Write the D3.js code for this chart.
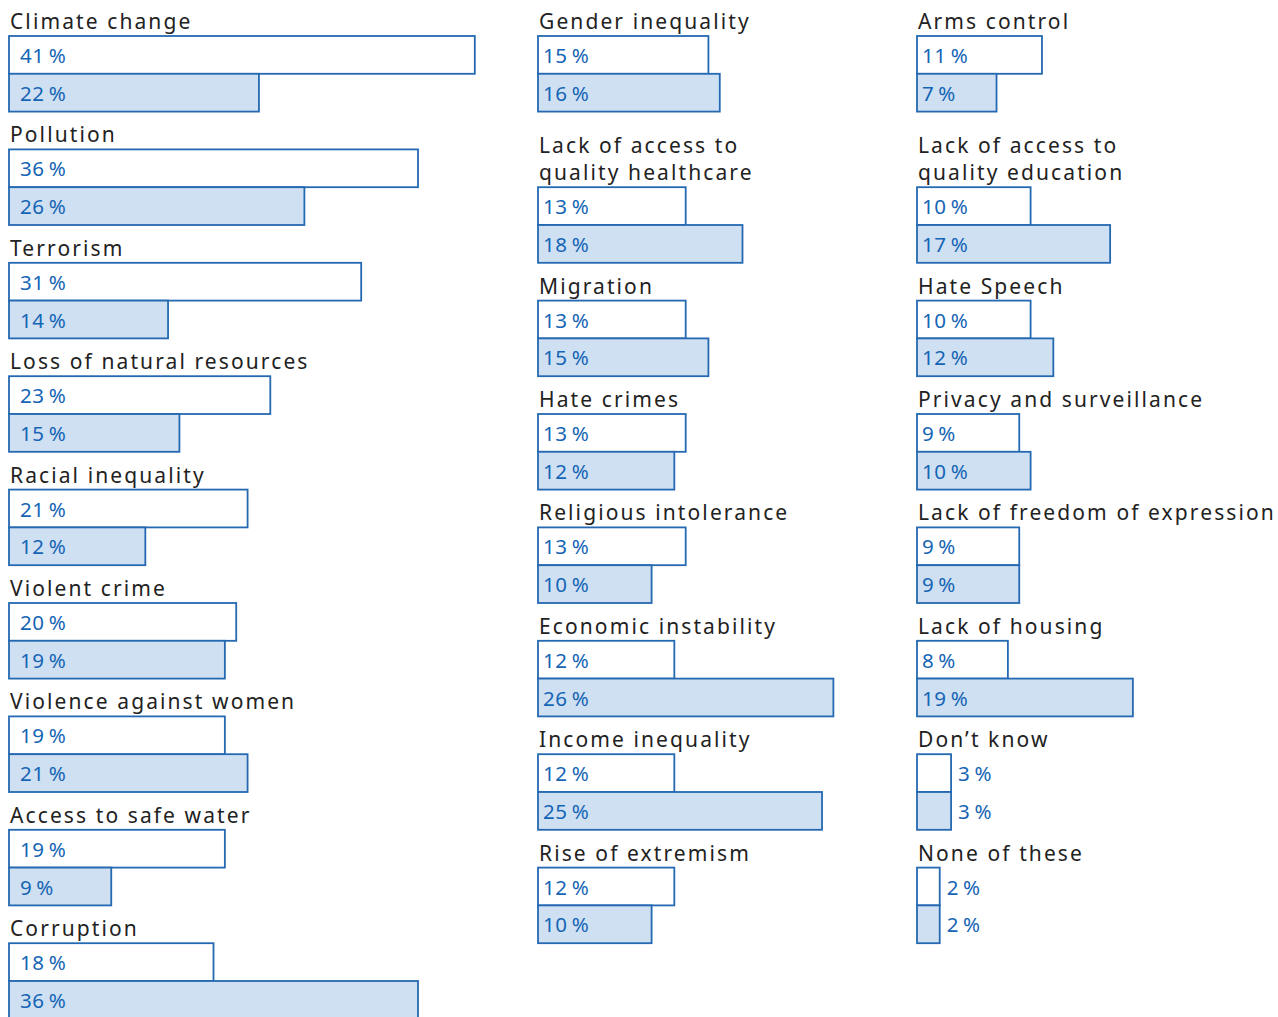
<!DOCTYPE html>
<html>
<head>
<meta charset="utf-8">
<script src="https://cdn.jsdelivr.net/npm/d3@7"></script>
<style>
  body { margin: 0; background: #fff; }
  svg { display: block; }
  .label { font-family: "Noto Sans", sans-serif; font-size: 21px; letter-spacing: 2.1px; fill: #222; }
  .pct { font-family: "Noto Sans", sans-serif; font-size: 20.5px; letter-spacing: 0.6px; fill: #1565b5; }
</style>
</head>
<body>
<div id="chart"></div>
<script>
// Categories, one array per column
var col1Labels = ["Climate change", "Pollution", "Terrorism", "Loss of natural resources",
  "Racial inequality", "Violent crime", "Violence against women", "Access to safe water", "Corruption"];
var col2Labels = ["Gender inequality", "Lack of access to\nquality healthcare", "Migration", "Hate crimes",
  "Religious intolerance", "Economic instability", "Income inequality", "Rise of extremism"];
var col3Labels = ["Arms control", "Lack of access to\nquality education", "Hate Speech", "Privacy and surveillance",
  "Lack of freedom of expression", "Lack of housing", "Don\u2019t know", "None of these"];

// First series (white bars) and second series (blue bars), in %
var col1First  = [41, 36, 31, 23, 21, 20, 19, 19, 18];
var col1Second = [22, 26, 14, 15, 12, 19, 21, 9, 36];
var col2First  = [15, 13, 13, 13, 13, 12, 12, 12];
var col2Second = [16, 18, 15, 12, 10, 26, 25, 10];
var col3First  = [11, 10, 10, 9, 9, 8, 3, 2];
var col3Second = [7, 17, 12, 10, 9, 19, 3, 2];

var width = 1278, height = 1017;

var columns = [
  {x0: 9,   pad: 11, labels: col1Labels, a: col1First, b: col1Second},
  {x0: 538, pad: 5,  labels: col2Labels, a: col2First, b: col2Second},
  {x0: 917, pad: 5,  labels: col3Labels, a: col3First, b: col3Second}
];

// x: percent -> px, y: row index -> px (each label line / bar takes one row)
var x = d3.scaleLinear().domain([0, 41]).range([0, 465.8]);
var rowH = 37.8;
var y = d3.scaleLinear().domain([0, 1]).range([-1.8, -1.8 + rowH]);

var svg = d3.select("#chart").append("svg")
  .attr("width", width)
  .attr("height", height);

var fmt = function(v) { return v + "\u2009%"; };

columns.forEach(function(col) {
  var g = svg.append("g").attr("transform", "translate(" + col.x0 + ",0)");
  var row = 0;
  col.labels.forEach(function(lab, i) {
    var lines = lab.split("\n");
    var labelRows = lines.length;
    // label text sits at the bottom of its rows
    var lastBase = y(row + labelRows) - 7;
    g.selectAll(null)
      .data(lines)
      .enter().append("text")
      .attr("class", "label")
      .attr("x", 1)
      .attr("y", function(d, j) { return lastBase - (lines.length - 1 - j) * 27; })
      .text(function(d) { return d; });
    row += labelRows;

    var vals = [col.a[i], col.b[i]];
    var bars = g.append("g");
    bars.selectAll("rect")
      .data(vals)
      .enter().append("rect")
      .attr("x", 0)
      .attr("y", function(d, j) { return y(row + j); })
      .attr("width", function(d) { return x(d); })
      .attr("height", rowH)
      .attr("fill", function(d, j) { return j === 0 ? "#fff" : "#cfe0f2"; })
      .attr("stroke", "#2469b1")
      .attr("stroke-width", 1.8);

    bars.selectAll("text")
      .data(vals)
      .enter().append("text")
      .attr("class", "pct")
      .attr("x", function(d) { return d <= 3 ? x(d) + 7 : col.pad; })
      .attr("y", function(d, j) { return y(row + j) + rowH / 2 + 8; })
      .text(fmt);
    row += 2;
  });
});
</script>
</body>
</html>
